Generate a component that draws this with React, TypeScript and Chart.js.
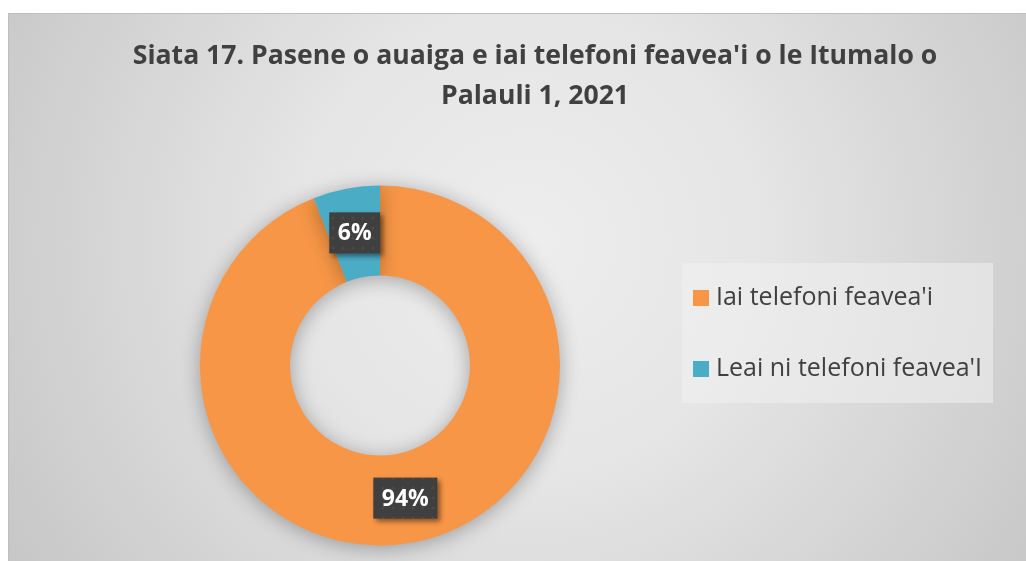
import React, { useEffect, useRef } from "react";
import { Chart, registerables } from "chart.js";

Chart.register(...registerables);

const categories = ["Iai telefoni feavea'i", "Leai ni telefoni feavea'I"];
const values = [94, 6];
const colors = ["#F79646", "#4BACC6"];
const titleLines = [
  "Siata 17. Pasene o auaiga e iai telefoni feavea'i o le Itumalo o",
  "Palauli 1, 2021",
];

const W = 1054;
const H = 548;

function makePattern(ctx: CanvasRenderingContext2D) {
  const c = document.createElement("canvas");
  c.width = 10;
  c.height = 10;
  const p = c.getContext("2d")!;
  p.fillStyle = "#3f3f3f";
  p.fillRect(0, 0, 10, 10);
  p.fillStyle = "rgba(255,255,255,0.06)";
  p.beginPath();
  p.arc(5, 5, 1.6, 0, Math.PI * 2);
  p.fill();
  return ctx.createPattern(c, "repeat")!;
}

const backgroundPlugin = {
  id: "bg",
  beforeDraw(chart: any) {
    const ctx = chart.ctx as CanvasRenderingContext2D;
    ctx.save();
    const g = ctx.createRadialGradient(520, 230, 0, 520, 230, 640);
    g.addColorStop(0, "#ededed");
    g.addColorStop(0.35, "#e6e6e6");
    g.addColorStop(1, "#c4c4c4");
    ctx.fillStyle = g;
    ctx.fillRect(0, 0, W, H);
    ctx.strokeStyle = "#bfbfbf";
    ctx.lineWidth = 1;
    ctx.strokeRect(0.5, 0.5, W - 1, H + 10);
    ctx.restore();
  },
};

const shadowPlugin = {
  id: "ringShadow",
  beforeDatasetsDraw(chart: any) {
    const ctx = chart.ctx as CanvasRenderingContext2D;
    ctx.save();
    ctx.shadowColor = "rgba(0,0,0,0.3)";
    ctx.shadowBlur = 20;
    ctx.shadowOffsetX = 0;
    ctx.shadowOffsetY = 3;
  },
  afterDatasetsDraw(chart: any) {
    chart.ctx.restore();
  },
};

const overlayPlugin = {
  id: "overlay",
  afterDraw(chart: any) {
    const ctx = chart.ctx as CanvasRenderingContext2D;
    ctx.save();
    // Title
    ctx.fillStyle = "#404040";
    ctx.font = "bold 26.6px 'Open Sans'";
    ctx.textAlign = "center";
    ctx.textBaseline = "alphabetic";
    titleLines.forEach((line, i) => {
      ctx.fillText(line, 527, 51 + i * 40);
    });

    // Data labels
    const meta = chart.getDatasetMeta(0);
    const data = chart.data.datasets[0].data as number[];
    const total = data.reduce((a, b) => a + b, 0);
    const pattern = makePattern(ctx);
    ctx.font = "bold 23px 'Open Sans'";
    meta.data.forEach((arc: any, i: number) => {
      const p = arc.getProps(["x", "y", "startAngle", "endAngle", "innerRadius", "outerRadius"], true);
      const mid = (p.startAngle + p.endAngle) / 2;
      const r = (p.innerRadius + p.outerRadius) / 2;
      const cx = p.x + Math.cos(mid) * r;
      const cy = p.y + Math.sin(mid) * r;
      const text = Math.round((data[i] / total) * 100) + "%";
      const tw = ctx.measureText(text).width;
      const bw = tw + 17;
      const bh = 41;
      ctx.save();
      ctx.shadowColor = "rgba(0,0,0,0.45)";
      ctx.shadowBlur = 5;
      ctx.shadowOffsetX = 3;
      ctx.shadowOffsetY = 3;
      ctx.fillStyle = pattern;
      ctx.fillRect(cx - bw / 2, cy - bh / 2, bw, bh);
      ctx.restore();
      ctx.fillStyle = "#ffffff";
      ctx.textAlign = "center";
      ctx.textBaseline = "middle";
      ctx.fillText(text, cx, cy + 1);
    });

    // Legend
    ctx.fillStyle = "rgba(240,240,240,0.55)";
    ctx.fillRect(674, 250, 311, 140);
    ctx.font = "25px 'Open Sans'";
    ctx.textAlign = "left";
    ctx.textBaseline = "middle";
    (chart.data.labels as string[]).forEach((lab, i) => {
      const y = 285 + i * 71;
      ctx.fillStyle = colors[i];
      ctx.fillRect(685, y - 8, 16, 16);
      ctx.fillStyle = "#404040";
      ctx.fillText(lab, 708, y);
    });
    ctx.restore();
  },
};

export default function App() {
  const ref = useRef<HTMLCanvasElement>(null);
  useEffect(() => {
    const chart = new Chart(ref.current!, {
      type: "doughnut",
      data: {
        labels: categories,
        datasets: [
          {
            data: values,
            backgroundColor: colors,
            borderWidth: 0,
            hoverOffset: 0,
          },
        ],
      },
      options: {
        responsive: false,
        animation: false,
        cutout: "50%",
        layout: { padding: { left: 192, top: 172.5, right: 502, bottom: 15.5 } },
        plugins: {
          legend: { display: false },
          tooltip: { enabled: false },
          title: { display: false },
        },
      },
      plugins: [backgroundPlugin, shadowPlugin, overlayPlugin],
    });
    return () => chart.destroy();
  }, []);
  return (
    <div
      style={{
        position: "fixed",
        left: 8,
        top: 13,
        width: 1018,
        height: 548,
        overflow: "hidden",
      }}
    >
      <canvas ref={ref} width={W} height={H} style={{ display: "block", width: W, height: H }} />
    </div>
  );
}
